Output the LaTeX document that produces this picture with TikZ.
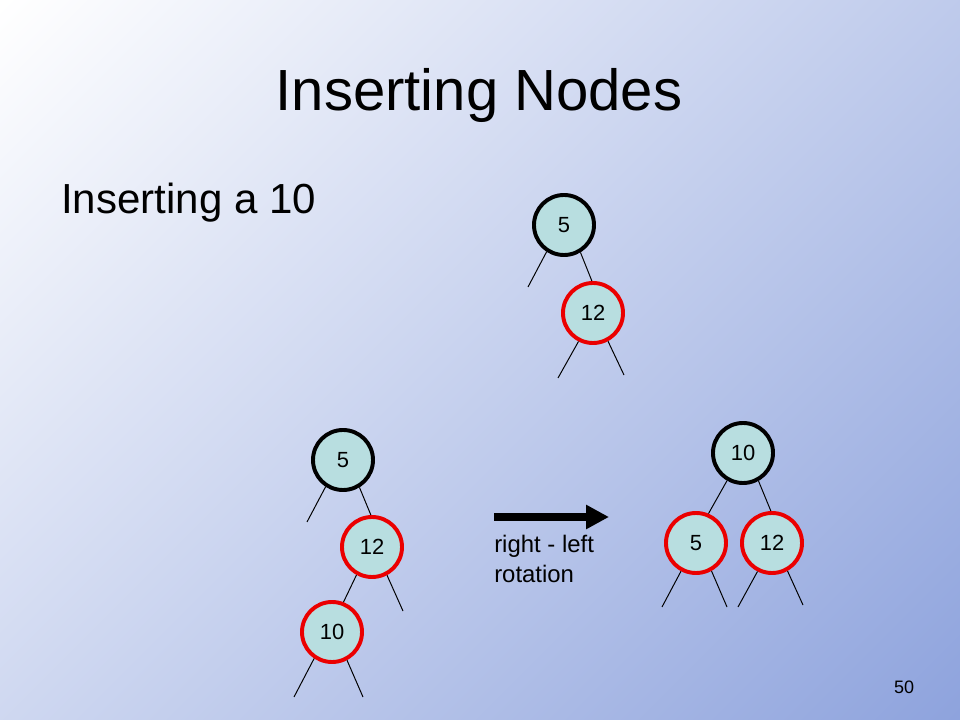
\documentclass[tikz,border=0pt]{standalone}
\usepackage{fontspec}
\setmainfont{Liberation Sans}
\usepackage{tikz}
\usetikzlibrary{calc,positioning,arrows.meta}

\definecolor{bgblue}{RGB}{142,163,221}
\definecolor{nodefill}{RGB}{184,222,224}
\definecolor{nodered}{RGB}{235,0,0}

\pgfdeclareverticalshading{slidebg}{100bp}{color(0bp)=(bgblue); color(14.64bp)=(bgblue); color(85.36bp)=(white); color(100bp)=(white)}

\begin{document}
\begin{tikzpicture}[x=0.025cm,y=-0.025cm,
    blacknode/.style={circle,draw=black,fill=nodefill,line width=2.8pt,minimum size=1.5cm,inner sep=0pt,font=\fontsize{15.6}{18}\selectfont},
    rednode/.style={blacknode,draw=nodered},
    edgestyle/.style={line width=0.7pt}]

    \useasboundingbox (0,0) rectangle (960,720);
    \shade[shading=slidebg,shading angle=45] (0,0) rectangle (960,720);

    \node[anchor=base,font=\fontsize{41.3}{48}\selectfont] (title) at (479,111) {Inserting Nodes};
    \node[anchor=base west,inner sep=0pt,font=\fontsize{29.9}{36}\selectfont] (sub) at (61,214) {Inserting a 10};
    \node[anchor=base,inner sep=0pt,font=\fontsize{12.8}{15}\selectfont] (page) at (904,693) {50};

    % top tree
    \node[blacknode] (t5) at (564,225) {5};
    \node[rednode] (t12) at (593,313) {12};
    \coordinate (t5l) at (528,287);
    \coordinate (t12l) at (558,378);
    \coordinate (t12r) at (624,375);
    \draw[edgestyle] (t5.-123) -- (t5l);
    \draw[edgestyle] (t5.-59) -- (t12.92);
    \draw[edgestyle] (t12.-117) -- (t12l);
    \draw[edgestyle] (t12.-62) -- (t12r);

    % before rotation
    \node[blacknode] (l5) at (343,460) {5};
    \node[rednode] (l12) at (372,547) {12};
    \node[rednode] (l10) at (332,632) {10};
    \coordinate (l5l) at (307,522);
    \coordinate (l12r) at (403,611);
    \coordinate (l10l) at (294,697);
    \coordinate (l10r) at (363,697);
    \draw[edgestyle] (l5.-123) -- (l5l);
    \draw[edgestyle] (l5.-59) -- (l12.92);
    \draw[edgestyle] (l12.-119) -- (l10.69);
    \draw[edgestyle] (l12.-62) -- (l12r);
    \draw[edgestyle] (l10.-124) -- (l10l);
    \draw[edgestyle] (l10.-62) -- (l10r);

    % arrow
    \coordinate (arrs) at (494,517);
    \coordinate (arre) at (609,517);
    \draw[line width=5pt,-{Triangle[length=0.575cm,width=0.575cm]}] (arrs) -- (arre);
    \node[anchor=north west,inner sep=0pt,align=left,font=\fontsize{17}{21.3}\selectfont] (rot) at (494,535) {right - left\\rotation};

    % after rotation
    \node[blacknode] (r10) at (743,453) {10};
    \node[rednode] (r5) at (696,543) {5};
    \node[rednode] (r12) at (772,543) {12};
    \coordinate (r5l) at (662,607);
    \coordinate (r5r) at (727,607);
    \coordinate (r12l) at (738,607);
    \coordinate (r12r) at (803,605);
    \draw[edgestyle] (r10.-120) -- (r5.67);
    \draw[edgestyle] (r10.-61) -- (r12.92);
    \draw[edgestyle] (r5.-118) -- (r5l);
    \draw[edgestyle] (r5.-61) -- (r5r);
    \draw[edgestyle] (r12.-117) -- (r12l);
    \draw[edgestyle] (r12.-61) -- (r12r);

\end{tikzpicture}
\end{document}
